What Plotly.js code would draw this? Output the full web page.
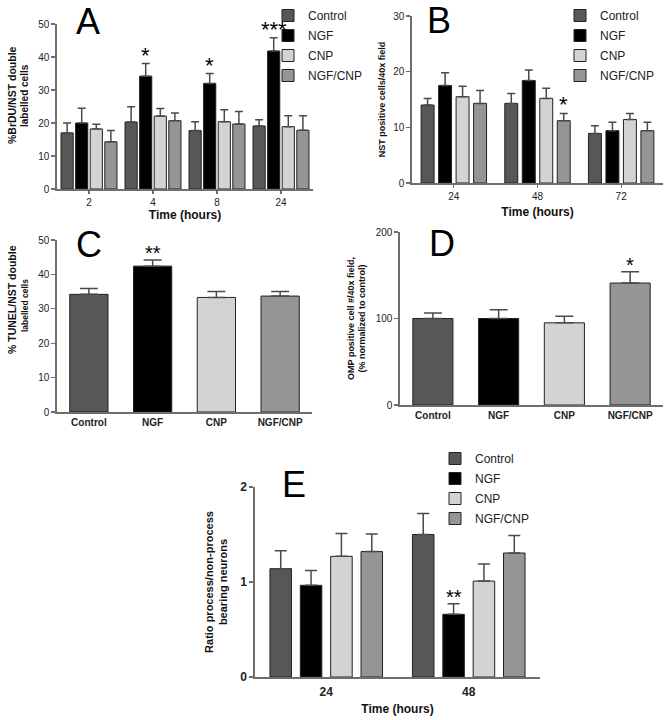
<!DOCTYPE html>
<html><head><meta charset="utf-8">
<script src="https://cdn.plot.ly/plotly-3.0.1.min.js"></script>
<style>html,body{margin:0;padding:0;background:#fff}#chart{width:668px;height:720px}</style>
</head><body><div id="chart"></div>
<script>
// ---- data ----
const seriesNames = ['Control', 'NGF', 'CNP', 'NGF/CNP'];

// Panel A: %BrDU/NST double labelled cells
const timesA = ['2', '4', '8', '24'];
const aControl = [17.0, 20.3, 17.7, 19.1];
const aControlErr = [3.0, 4.6, 2.7, 1.9];
const aNGF = [20.0, 34.2, 32.0, 41.8];
const aNGFErr = [4.5, 3.8, 3.0, 4.0];
const aCNP = [18.2, 22.1, 20.4, 18.9];
const aCNPErr = [1.4, 2.3, 3.6, 3.3];
const aNGFCNP = [14.3, 20.7, 19.7, 17.8];
const aNGFCNPErr = [3.4, 2.3, 3.8, 4.4];
const aStarsNGF = ['', '*', '*', '***'];

// Panel B: NST positive cells/40x field
const timesB = ['24', '48', '72'];
const bControl = [14.0, 14.3, 8.9];
const bControlErr = [1.2, 1.8, 1.4];
const bNGF = [17.5, 18.4, 9.4];
const bNGFErr = [2.3, 1.9, 1.5];
const bCNP = [15.5, 15.2, 11.4];
const bCNPErr = [1.9, 1.8, 1.1];
const bNGFCNP = [14.3, 11.2, 9.4];
const bNGFCNPErr = [2.3, 1.3, 1.5];
const bStarsNGFCNP = ['', '*', ''];

// Panel C: % TUNEL/NST double labelled cells
const cVals = [34.2, 42.4, 33.3, 33.7];
const cErr = [1.7, 1.8, 1.7, 1.3];
const cStars = ['', '**', '', ''];

// Panel D: OMP positive cell #/40x field (% of control)
const dVals = [100, 100, 95, 141];
const dErr = [6.5, 10, 7.5, 13];
const dStars = ['', '', '', '*'];

// Panel E: ratio process/non-process bearing neurons
const timesE = ['24', '48'];
const eControl = [1.14, 1.50];
const eControlErr = [0.19, 0.22];
const eNGF = [0.965, 0.66];
const eNGFErr = [0.155, 0.11];
const eCNP = [1.27, 1.01];
const eCNPErr = [0.24, 0.18];
const eNGFCNP = [1.32, 1.305];
const eNGFCNPErr = [0.185, 0.185];
const eStarsNGF = ['', '**'];

// ---- styles ----
const colors = ['#575757', '#000000', '#d3d3d3', '#959595'];
const FONT = 'Liberation Sans, Arial, sans-serif';
const W = 668, H = 720;
const px = v => v / W, py = v => 1 - v / H;

function errY(arr, width) {
  return {type: 'data', symmetric: false, array: arr, arrayminus: arr.map(() => 0),
          color: '#4a4a4a', thickness: 1.5, width: width};
}

const traces = [];
const annotations = [];

function groupPanel(cats, vals, errs, xa, ya, legendId, w, s, capW, starsIdx, stars, starSize) {
  vals.forEach((v, i) => {
    const off = (i - 1.5) * s - w / 2;
    traces.push({
      type: 'bar', x: cats, y: v, name: seriesNames[i],
      xaxis: xa, yaxis: ya, legend: legendId, showlegend: !!legendId,
      legendgroup: (legendId || 'none') + i,
      marker: {color: colors[i], line: {color: '#222', width: 1}},
      width: w, offset: off,
      error_y: errY(errs[i], capW), hoverinfo: 'y'
    });
  });
  const offC = (starsIdx - 1.5) * s;
  stars.forEach((t, k) => {
    if (!t) return;
    annotations.push({
      xref: xa, yref: ya, x: k + offC, y: vals[starsIdx][k] + errs[starsIdx][k],
      text: t, showarrow: false, yanchor: 'bottom', yshift: -6,
      font: {family: FONT, size: starSize, color: '#000'}
    });
  });
}

function singlePanel(vals, errs, xa, ya, w, capW, stars, starSize) {
  traces.push({
    type: 'bar', x: seriesNames, y: vals, xaxis: xa, yaxis: ya, showlegend: false,
    marker: {color: colors, line: {color: '#222', width: 1}}, width: w,
    error_y: errY(errs, capW), hoverinfo: 'y'
  });
  stars.forEach((t, k) => {
    if (!t) return;
    annotations.push({
      xref: xa, yref: ya, x: k, y: vals[k] + errs[k],
      text: t, showarrow: false, yanchor: 'bottom', yshift: -6,
      font: {family: FONT, size: starSize, color: '#000'}
    });
  });
}

groupPanel(timesA, [aControl, aNGF, aCNP, aNGFCNP], [aControlErr, aNGFErr, aCNPErr, aNGFCNPErr],
  'x', 'y', 'legend', 0.19, 0.228, 4, 1, aStarsNGF, 22);
groupPanel(timesB, [bControl, bNGF, bCNP, bNGFCNP], [bControlErr, bNGFErr, bCNPErr, bNGFCNPErr],
  'x2', 'y2', 'legend2', 0.155, 0.209, 4, 3, bStarsNGFCNP, 22);
singlePanel(cVals, cErr, 'x3', 'y3', 0.6, 9, cStars, 20);
singlePanel(dVals, dErr, 'x4', 'y4', 0.61, 9, dStars, 20);
groupPanel(timesE, [eControl, eNGF, eCNP, eNGFCNP], [eControlErr, eNGFErr, eCNPErr, eNGFCNPErr],
  'x5', 'y5', 'legend3', 0.151, 0.213, 6, 1, eStarsNGF, 20);

// panel letters
[['A', 88, 21], ['B', 439, 20], ['C', 89, 244], ['D', 442, 243], ['E', 294, 484]].forEach(([t, x, y]) => {
  annotations.push({xref: 'paper', yref: 'paper', x: px(x), y: py(y), text: t, showarrow: false,
    xanchor: 'center', yanchor: 'middle', font: {family: FONT, size: 36, color: '#000'}});
});

// rotated y titles for A and C (placed like the original, off-centre)
[['%BrDU/NST double', 12, 95, 10.5], ['labelled cells', 25, 95, 10],
 ['% TUNEL/NST double', 12, 300, 10.5], ['labelled cells', 25, 305, 8.5]].forEach(([t, x, y, s]) => {
  annotations.push({xref: 'paper', yref: 'paper', x: px(x), y: py(y), text: '<b>' + t + '</b>',
    showarrow: false, textangle: -90, xanchor: 'center', yanchor: 'middle',
    font: {family: FONT, size: s, color: '#111'}});
});

const axLine = {showline: true, linecolor: '#6e6e6e', linewidth: 1.6, showgrid: false, zeroline: false,
  ticks: 'outside', tickcolor: '#6e6e6e', tickwidth: 1.2, fixedrange: true};

function xAx(d, anchor, n, tickSize, tickBold, title, tsize, standoff, ticklen, tickcolor) {
  return Object.assign({}, axLine, {
    domain: d, anchor: anchor, type: 'category', range: [-0.5, n - 0.5], ticklen: ticklen,
    tickcolor: tickcolor || '#6e6e6e',
    tickfont: {family: FONT, size: tickSize, color: '#222', weight: tickBold ? 'bold' : 'normal'},
    title: title ? {text: title, font: {family: FONT, size: tsize, color: '#111', weight: 'bold'}, standoff: standoff} : {text: ''}
  });
}
function yAx(d, anchor, range, dtick, tickSize, tickBold, title, tsize, standoff) {
  return Object.assign({}, axLine, {
    domain: d, anchor: anchor, range: range, dtick: dtick, ticklen: 4,
    tickfont: {family: FONT, size: tickSize, color: '#222', weight: tickBold ? 'bold' : 'normal'},
    title: {text: title, font: {family: FONT, size: tsize, color: '#111', weight: 'bold'}, standoff: standoff}
  });
}

const legendBase = {xanchor: 'left', yanchor: 'top', bgcolor: 'rgba(0,0,0,0)',
  font: {family: FONT, size: 12, color: '#222'}, tracegroupgap: 1, itemclick: false};

const layout = {
  width: W, height: H, margin: {l: 0, r: 0, t: 0, b: 0},
  paper_bgcolor: '#fff', plot_bgcolor: 'rgba(0,0,0,0)',
  barmode: 'overlay', showlegend: true,
  font: {family: FONT, color: '#222'},
  xaxis: xAx([px(57), px(313)], 'y', 4, 10, false, 'Time (hours)', 12, 4, 3),
  yaxis: yAx([py(189), py(24)], 'x', [0, 50], 10, 10, false, '', 10, 6),
  xaxis2: xAx([px(412), px(663)], 'y2', 3, 10, false, 'Time (hours)', 12, 7, 3),
  yaxis2: yAx([py(183), py(16)], 'x2', [0, 30], 10, 10, false, 'NST positive cells/40x field', 9, 6),
  xaxis3: xAx([px(57), px(312)], 'y3', 4, 10, true, '', 10, 0, 0),
  yaxis3: yAx([py(412), py(240)], 'x3', [0, 50], 10, 10, false, '', 9, 6),
  xaxis4: xAx([px(400), px(663)], 'y4', 4, 10, true, '', 10, 0, 0),
  yaxis4: yAx([py(405), py(232)], 'x4', [0, 200], 100, 10, false, 'OMP positive cell #/40x field,<br>(% normalized to control)', 9, 8),
  xaxis5: xAx([px(255), px(540)], 'y5', 2, 12, true, 'Time (hours)', 12, 6, 3, 'rgba(0,0,0,0)'),
  yaxis5: yAx([py(677), py(487)], 'x5', [0, 2], 1, 12, true, 'Ratio process/non-process<br>bearing neurons', 11, 10),
  legend: Object.assign({x: px(268), y: py(1)}, legendBase),
  legend2: Object.assign({x: px(560), y: py(1)}, legendBase),
  legend3: Object.assign({x: px(435), y: py(444)}, legendBase),
  annotations: annotations
};

Plotly.newPlot('chart', traces, layout, {displayModeBar: false, staticPlot: true});
</script>
</body></html>
